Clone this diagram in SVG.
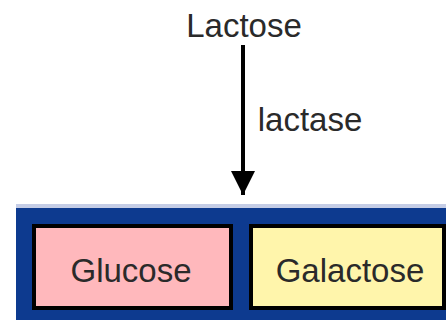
<svg xmlns="http://www.w3.org/2000/svg" width="446" height="320" viewBox="0 0 446 320">
<defs>
<style>
.t{font-family:"Liberation Sans",Arial,sans-serif;font-size:33px;fill:#2a2a2a;text-anchor:middle}
.box{stroke:#000;stroke-width:4}
</style>
<marker id="ah" viewBox="0 0 10 10" refX="10" refY="5" markerWidth="7" markerHeight="6" markerUnits="strokeWidth" orient="auto">
<path d="M0,0 L10,5 L0,10 z" fill="#000"/>
</marker>
</defs>
<rect width="446" height="320" fill="#fff"/>
<g id="band">
<rect x="16" y="204" width="430" height="4" fill="#c5cde6"/>
<rect x="16" y="208" width="430" height="112" fill="#0d3a8f"/>
</g>
<g id="lactose"><text class="t" x="244" y="37">Lactose</text></g>
<g id="connectors">
<line x1="243" y1="45" x2="243" y2="195" stroke="#000" stroke-width="4" marker-end="url(#ah)"/>
<text class="t" x="310" y="131">lactase</text>
</g>
<g id="glucose">
<rect class="box" x="34" y="226" width="197" height="82" fill="#ffb8bc"/>
<text class="t" x="131" y="282">Glucose</text>
</g>
<g id="galactose">
<rect class="box" x="251" y="226" width="193" height="82" fill="#fff5ab"/>
<text class="t" x="350" y="282">Galactose</text>
</g>
</svg>
